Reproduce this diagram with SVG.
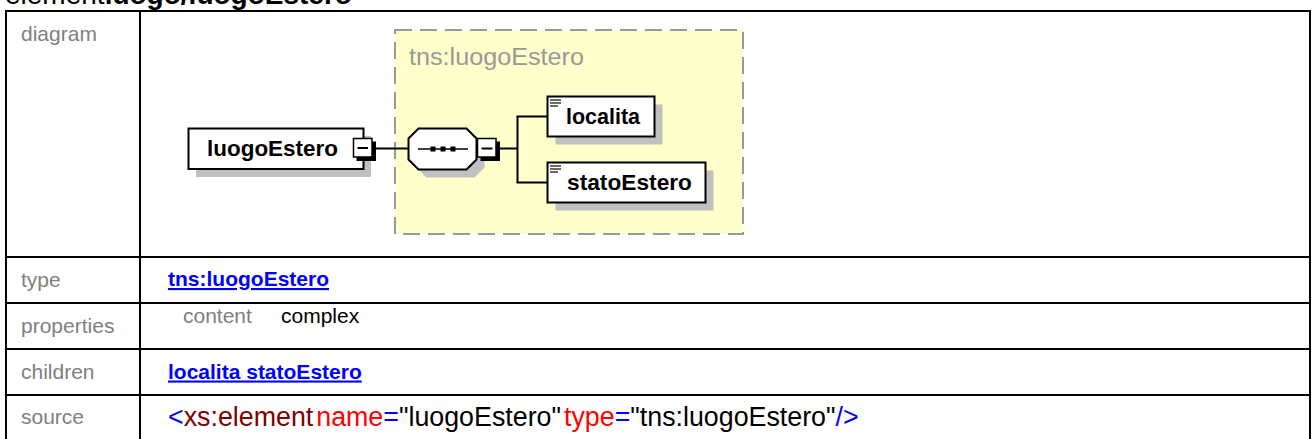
<svg xmlns="http://www.w3.org/2000/svg" width="1314" height="439" viewBox="0 0 1314 439">
<style>
.lbl{font-family:"Liberation Sans",Arial,sans-serif;font-size:21px;fill:#808080}
.val{font-family:"Liberation Sans",Arial,sans-serif;font-size:21px;fill:#000}
.lnk{font-family:"Liberation Sans",Arial,sans-serif;font-size:21px;font-weight:bold;fill:#0000ff;text-decoration:underline}
.src{font-family:"Liberation Sans",Arial,sans-serif;font-size:26.8px}
.grid{stroke:#000;stroke-width:2;fill:none}
.shadow{fill:#c0c0c0}
.box{fill:#fff;stroke:#000;stroke-width:2}
.name{font-family:"Liberation Sans",Arial,sans-serif;font-size:22px;font-weight:bold;fill:#000}
.conn{stroke:#000;stroke-width:2;fill:none}
.minus-sh{fill:#000}
.minus{fill:#fff;stroke:#000;stroke-width:1.5}
.icon{stroke:#444;stroke-width:1.6}
</style>
<rect width="1314" height="439" fill="#fff"/>
<text x="5" y="3.5" font-family="Liberation Sans,Arial,sans-serif" font-size="28" fill="#000">element<tspan font-weight="bold">luogo/luogoEstero</tspan></text>
<g id="table">
<line class="grid" x1="5" y1="11" x2="1311" y2="11"/>
<line class="grid" x1="6" y1="10" x2="6" y2="439"/>
<line class="grid" x1="140" y1="10" x2="140" y2="439"/>
<line class="grid" x1="1310" y1="10" x2="1310" y2="439"/>
<line class="grid" x1="5" y1="257" x2="1311" y2="257"/>
<line class="grid" x1="5" y1="303" x2="1311" y2="303"/>
<line class="grid" x1="5" y1="349" x2="1311" y2="349"/>
<line class="grid" x1="5" y1="395" x2="1311" y2="395"/>
<text class="lbl" x="21" y="40.5">diagram</text>
<text class="lbl" x="21" y="286.5">type</text>
<text class="lbl" x="21" y="333">properties</text>
<text class="lbl" x="21" y="378.5">children</text>
<text class="lbl" x="21" y="424">source</text>
<text class="lnk" x="168" y="286">tns:luogoEstero</text>
<text class="lbl" x="183" y="323">content</text>
<text class="val" x="281" y="323">complex</text>
<text class="lnk" x="168" y="378.5">localita statoEstero</text>
<text class="src" x="168" y="426"><tspan fill="#0000ff">&lt;</tspan><tspan fill="#800000">xs:element</tspan><tspan dx="3" fill="#ff0000">name</tspan><tspan fill="#0000ff">=</tspan><tspan fill="#000">"luogoEstero"</tspan><tspan dx="3" fill="#ff0000">type</tspan><tspan fill="#0000ff">=</tspan><tspan fill="#000">"tns:luogoEstero"</tspan><tspan fill="#0000ff">/&gt;</tspan></text>
</g>
<g id="type-luogoEstero">
<rect x="395" y="30" width="348" height="204" fill="#ffffcc" stroke="#999" stroke-width="2" stroke-dasharray="17 8"/>
<text x="409" y="65" font-family="Liberation Sans,Arial,sans-serif" font-size="23" fill="#999" textLength="175" lengthAdjust="spacingAndGlyphs">tns:luogoEstero</text>
</g>
<g id="connectors">
<line class="conn" x1="375" y1="148.5" x2="409" y2="148.5"/>
<line class="conn" x1="499" y1="148.5" x2="517.5" y2="148.5"/>
<line class="conn" x1="517.5" y1="116.5" x2="517.5" y2="182.5"/>
<line class="conn" x1="516.5" y1="116.5" x2="548" y2="116.5"/>
<line class="conn" x1="516.5" y1="182.5" x2="548" y2="182.5"/>
</g>
<g id="node-luogoEstero">
<rect class="shadow" x="196" y="136" width="175" height="41"/>
<rect class="box" x="188.5" y="128.5" width="175" height="40.5"/>
<text class="name" x="207" y="156" textLength="131" lengthAdjust="spacingAndGlyphs">luogoEstero</text>
<rect class="minus-sh" x="356.5" y="141.5" width="19.5" height="19.5"/>
<rect class="minus" x="353.5" y="138.5" width="18.5" height="18.5"/>
<line x1="357.5" y1="148" x2="368" y2="148" stroke="#000" stroke-width="2"/>
</g>
<g id="node-sequence">
<polygon class="shadow" points="426.5,136.5 474.5,136.5 484.5,146.5 484.5,167.5 474.5,177.5 426.5,177.5 416.5,167.5 416.5,146.5"/>
<polygon class="box" points="418.5,128.5 466.5,128.5 476.5,138.5 476.5,159.5 466.5,169.5 418.5,169.5 408.5,159.5 408.5,138.5"/>
<line x1="418" y1="149" x2="468" y2="149" stroke="#000" stroke-width="1.5"/>
<rect x="430.5" y="146.5" width="5" height="5" fill="#000"/>
<rect x="440.5" y="146.5" width="5" height="5" fill="#000"/>
<rect x="450.5" y="146.5" width="5" height="5" fill="#000"/>
<rect class="minus-sh" x="480.5" y="141.5" width="19.5" height="19.5"/>
<rect class="minus" x="477.5" y="138.5" width="18.5" height="18.5"/>
<line x1="481.5" y1="148.5" x2="492.5" y2="148.5" stroke="#000" stroke-width="2"/>
</g>
<g id="node-localita">
<rect class="shadow" x="555.5" y="104.5" width="107" height="40"/>
<rect class="box" x="547.5" y="96.5" width="107" height="40"/>
<line class="icon" x1="550" y1="100" x2="561" y2="100"/>
<line class="icon" x1="550" y1="103" x2="561" y2="103"/>
<line class="icon" x1="550" y1="106" x2="558" y2="106"/>
<text class="name" x="566" y="124" textLength="74" lengthAdjust="spacingAndGlyphs">localita</text>
</g>
<g id="node-statoEstero">
<rect class="shadow" x="555.5" y="170.5" width="158" height="40"/>
<rect class="box" x="547.5" y="162.5" width="158" height="40"/>
<line class="icon" x1="550" y1="166" x2="561" y2="166"/>
<line class="icon" x1="550" y1="169" x2="561" y2="169"/>
<line class="icon" x1="550" y1="172" x2="558" y2="172"/>
<text class="name" x="567" y="190" textLength="125" lengthAdjust="spacingAndGlyphs">statoEstero</text>
</g>
</svg>
